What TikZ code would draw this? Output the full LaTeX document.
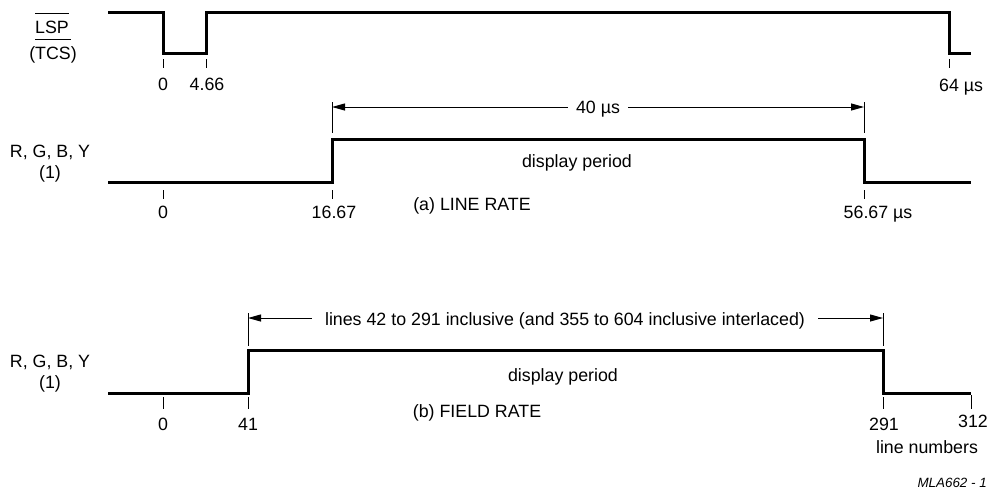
\documentclass[tikz,border=0pt]{standalone}
\usepackage{fontspec}
\setmainfont{Liberation Sans}
\usetikzlibrary{arrows.meta}
\newcommand\myovl[1]{\vbox{\hrule height 1pt\kern 7pt\hbox{#1}}}
\begin{document}
\begin{tikzpicture}[x=1pt,y=-1pt,
  sig/.style={line width=3pt, line join=miter},
  tickline/.style={line width=1pt},
  extline/.style={line width=1pt},
  dimline/.style={line width=1pt, {Triangle[length=13pt,width=7pt]}-{Triangle[length=13pt,width=7pt]}},
  lbl/.style={anchor=base, inner sep=0pt, font=\fontsize{17.8}{21}\selectfont},
  dimlbl/.style={lbl, fill=white, inner ysep=2pt},
  ]
\fill[white] (0,0) rectangle (988,493);
\useasboundingbox (0,0) rectangle (988,493);

% ---------- LSP / TCS ----------
\node[lbl] (lsp) at (52,33) {\myovl{LSP}};
\node[lbl] (tcs) at (53,59) {(\myovl{TCS})};
\coordinate (a0) at (108,12);
\coordinate (a1) at (163,12);
\coordinate (a2) at (163,53);
\coordinate (a3) at (206,53);
\coordinate (a4) at (206,12);
\coordinate (a5) at (949,12);
\coordinate (a6) at (949,53);
\coordinate (a7) at (971,53);
\draw[sig] (a0) -- (a1) -- (a2) -- (a3) -- (a4) -- (a5) -- (a6) -- (a7);
\draw[tickline] (163,59) -- (163,68);
\draw[tickline] (206,59) -- (206,68);
\draw[tickline] (949,59) -- (949,68);
\node[lbl] (ta0) at (163,90) {0};
\node[lbl] (ta1) at (207,90) {4.66};
\node[lbl] (ta2) at (949,91) {64\rlap{\ µs}};

% ---------- line rate ----------
\node[lbl] (rgba) at (50,157) {R, G, B, Y};
\node[lbl] (rgbb) at (50,178) {(1)};
\coordinate (b0) at (108,182);
\coordinate (b1) at (332,182);
\coordinate (b2) at (332,139);
\coordinate (b3) at (864,139);
\coordinate (b4) at (864,182);
\coordinate (b5) at (971,182);
\draw[sig] (b0) -- (b1) -- (b2) -- (b3) -- (b4) -- (b5);
\draw[tickline] (163,190) -- (163,199);
\draw[tickline] (332,190) -- (332,199);
\draw[tickline] (864,190) -- (864,199);
\draw[extline] (332,102) -- (332,133);
\draw[extline] (864,102) -- (864,133);
\coordinate (dl1) at (332,107);
\coordinate (dr1) at (864,107);
\draw[dimline] (dl1) -- (dr1);
\node[dimlbl, inner xsep=8pt] (d40) at (598,113) {40 µs};
\node[lbl] (dpa) at (577,167) {display period};
\node[lbl] (lra) at (472,210) {(a) LINE RATE};
\node[lbl] (tb0) at (163,218) {0};
\node[lbl] (tb1) at (334,218) {16.67};
\node[lbl] (tb2) at (866,218) {56.67\rlap{\ µs}};

% ---------- field rate ----------
\node[lbl] (rgbc) at (50,367) {R, G, B, Y};
\node[lbl] (rgbd) at (50,388) {(1)};
\coordinate (c0) at (108,393);
\coordinate (c1) at (248,393);
\coordinate (c2) at (248,350);
\coordinate (c3) at (883,350);
\coordinate (c4) at (883,393);
\coordinate (c5) at (971,393);
\draw[sig] (c0) -- (c1) -- (c2) -- (c3) -- (c4) -- (c5);
\draw[tickline] (163,397) -- (163,409);
\draw[tickline] (248,397) -- (248,409);
\draw[tickline] (883,397) -- (883,409);
\draw[tickline] (971,395) -- (971,409);
\draw[extline] (248,313) -- (248,346);
\draw[extline] (883,313) -- (883,346);
\coordinate (dl2) at (248,318);
\coordinate (dr2) at (883,318);
\draw[dimline] (dl2) -- (dr2);
\node[dimlbl, inner xsep=13pt] (dlines) at (565,325) {lines 42 to 291 inclusive (and 355 to 604 inclusive interlaced)};
\node[lbl] (dpb) at (563,381) {display period};
\node[lbl] (frb) at (477,417) {(b) FIELD RATE};
\node[lbl] (tc0) at (163,430) {0};
\node[lbl] (tc1) at (248,430) {41};
\node[lbl] (tc2) at (884,430) {291};
\node[lbl] (tc3) at (973,427) {312};
\node[lbl] (lnum) at (927,453) {line numbers};
\node[anchor=base east, inner sep=0pt, font=\fontsize{13.4}{16}\selectfont\itshape] (mla) at (987,487) {MLA662 - 1};
\end{tikzpicture}
\end{document}
